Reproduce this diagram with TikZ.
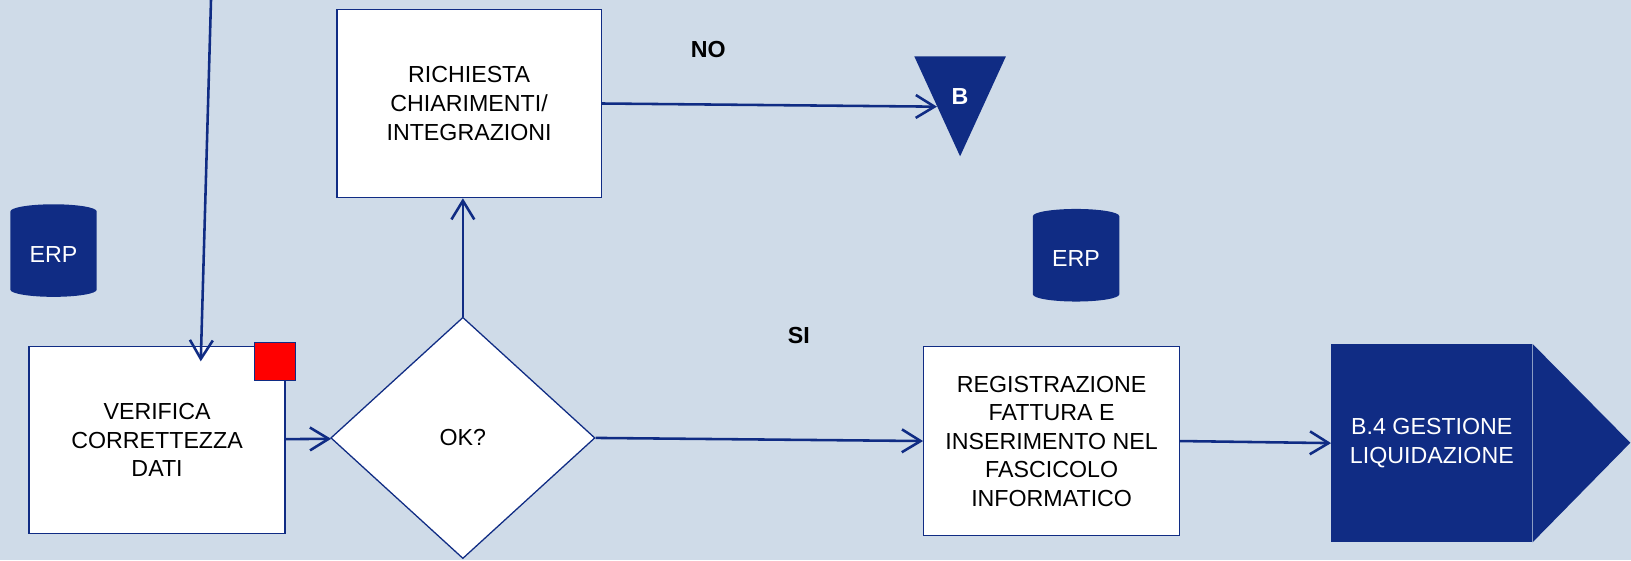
\documentclass[tikz,border=0pt]{standalone}
\usepackage{fontspec}
\setmainfont{Liberation Sans}
\usetikzlibrary{positioning, arrows.meta, shapes.geometric, calc}
\definecolor{bluscuro}{RGB}{16,44,132}
\definecolor{sfondo}{RGB}{207,219,232}
\newcommand{\fnt}{\fontsize{12.7}{15.6}\selectfont}
\tikzset{
flow/.style={-{Straight Barb[length=0.36cm,width=0.44cm]}, line width=1.4pt, draw=bluscuro}, % connectors
proc/.style={draw=bluscuro, fill=white, line width=0.7pt, align=center, inner sep=0pt}, % white process boxes
erp/.style={cylinder, shape border rotate=90, aspect=0.3, fill=bluscuro, text=white, minimum width=1.66cm, minimum height=1.78cm, inner sep=0pt},
}

\begin{document}
\begin{tikzpicture}[font=\fnt]
    \path[use as bounding box, fill=sfondo] (0,0) rectangle (31.36,-10.77);
    \coordinate (in) at (4.06,0.1);
    \node[erp] at (1.03,-4.89) (erp1) {ERP};
    \node[proc, minimum width=4.92cm, minimum height=3.6cm] at (3.02,-8.46) (ver) {VERIFICA\\CORRETTEZZA\\DATI};
    \node[draw=bluscuro, fill=red, line width=0.6pt, minimum width=0.78cm, minimum height=0.74cm, inner sep=0pt] at (5.29,-6.95) (flag) {};
    \node[proc, diamond, minimum width=5.08cm, minimum height=4.64cm] at (8.9,-8.42) (ok) {OK?};
    \node[proc, minimum width=5.08cm, minimum height=3.62cm] at (9.02,-1.99) (ric) {RICHIESTA\\CHIARIMENTI/\\INTEGRAZIONI};
    \node[font=\fnt\bfseries] at (13.62,-0.96) (no) {NO};
    \node[isosceles triangle, isosceles triangle stretches, shape border rotate=270, fill=bluscuro, minimum width=1.76cm, minimum height=1.92cm, inner sep=0pt,
      label={[text=white, font=\fnt\bfseries, yshift=-0.2cm]center:B}] at (18.46,-1.65) (b) {};
    \node[erp] at (20.69,-4.98) (erp2) {ERP};
    \node[font=\fnt\bfseries] at (15.36,-6.46) (si) {SI};
    \node[proc, minimum width=4.92cm, minimum height=3.64cm] at (20.22,-8.48) (reg) {REGISTRAZIONE\\FATTURA E\\INSERIMENTO NEL\\FASCICOLO\\INFORMATICO};
    \node[fill=bluscuro, text=white, align=center, minimum width=3.86cm, minimum height=3.8cm] at (27.53,-8.52) (liq) {B.4 GESTIONE\\LIQUIDAZIONE};
    \fill[bluscuro] (liq.north east) -- ++(1.88,-1.9) -- (liq.south east) -- cycle;
    \path
    (in) edge[flow] ($(ver.north)+(0.84,-0.3)$)
    (ver) edge[flow] (ok)
    (ok.north) edge[flow] (ok.north |- ric.south)
    (ric.east) edge[flow] (b.right side)
    (ok.east) edge[flow] (reg.west)
    (reg.east) edge[flow] (liq.west)
    ;
\end{tikzpicture}
\end{document}
